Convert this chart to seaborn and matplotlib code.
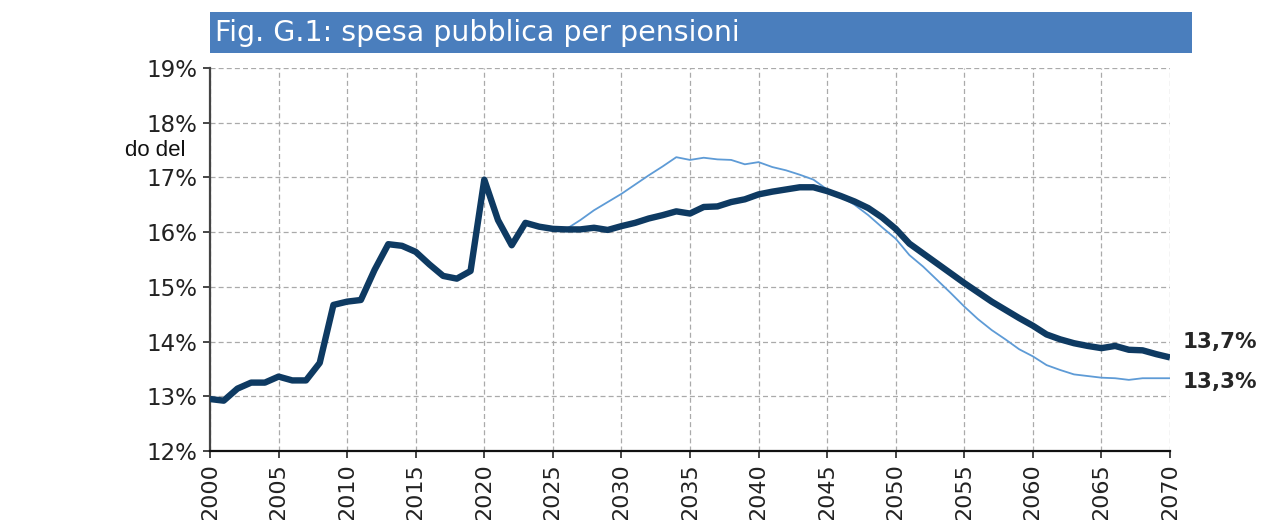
import numpy as np
import pandas as pd
import matplotlib.pyplot as plt
import seaborn as sns
from matplotlib.patches import Rectangle

# ==========================================
# DATA (% of GDP)
# ==========================================
years_main = list(range(2000, 2071))
spesa_main = [
    12.95, 12.92, 13.14, 13.25, 13.25, 13.36, 13.29, 13.29, 13.61, 14.67,
    14.73, 14.76, 15.31, 15.78, 15.75, 15.64, 15.41, 15.20, 15.15, 15.29,
    16.96, 16.22, 15.76, 16.17, 16.10, 16.06, 16.05, 16.05, 16.08, 16.04,
    16.11, 16.17, 16.25, 16.31, 16.38, 16.34, 16.46, 16.47, 16.55, 16.60,
    16.69, 16.74, 16.78, 16.82, 16.82, 16.75, 16.66, 16.56, 16.44, 16.27,
    16.06, 15.79, 15.61, 15.43, 15.25, 15.07, 14.90, 14.73, 14.58, 14.43,
    14.29, 14.13, 14.04, 13.97, 13.92, 13.88, 13.92, 13.85, 13.84, 13.77,
    13.71,
]

years_alt = list(range(2025, 2071))
spesa_alt = [
    16.06, 16.06, 16.22, 16.40, 16.55, 16.70, 16.87, 17.04, 17.20, 17.37,
    17.32, 17.36, 17.33, 17.32, 17.24, 17.28, 17.19, 17.13, 17.05, 16.96,
    16.78, 16.65, 16.50, 16.31, 16.09, 15.88, 15.58, 15.37, 15.13, 14.89,
    14.64, 14.41, 14.21, 14.04, 13.86, 13.73, 13.57, 13.48, 13.40, 13.37,
    13.34, 13.33, 13.30, 13.33, 13.33, 13.33,
]

end_labels = ["13,7%", "13,3%"]
title_text = "Fig. G.1: spesa pubblica per pensioni"
side_text = "do del"

x_ticks = list(range(2000, 2071, 5))
y_ticks = list(range(12, 20))

# ==========================================
# PLOT
# ==========================================
sns.set_style("white")
plt.rcParams["font.family"] = ["DejaVu Sans"]

DARK = "#0e3a62"
LIGHT = "#5e9bd6"
BAR = "#4a7ebd"

df_main = pd.DataFrame({"anno": years_main, "spesa": spesa_main})
df_alt = pd.DataFrame({"anno": years_alt, "spesa": spesa_alt})

fig = plt.figure(figsize=(12.62, 5.2), dpi=100)
ax = fig.add_axes([210 / 1262, 1 - 451 / 520, 960 / 1262, 383 / 520])

sns.lineplot(data=df_alt, x="anno", y="spesa", ax=ax, color=LIGHT, lw=1.3, zorder=3)
sns.lineplot(data=df_main, x="anno", y="spesa", ax=ax, color=DARK, lw=4.6, zorder=4,
             solid_capstyle="butt")

ax.set_xlim(2000, 2070)
ax.set_ylim(12, 19)
ax.set_xticks(x_ticks)
ax.set_yticks(y_ticks)
ax.set_xticklabels([str(x) for x in x_ticks], rotation=90, fontsize=16, color="#222222")
ax.set_yticklabels([f"{y}%" for y in y_ticks], fontsize=16.5, color="#222222")
ax.set_xlabel("")
ax.set_ylabel("")

ax.grid(True, color="#aaaaaa", linestyle=(0, (4, 2.5)), linewidth=0.9)
for s in ["top", "right"]:
    ax.spines[s].set_visible(False)
ax.spines["left"].set_color("#444444")
ax.spines["left"].set_linewidth(1.6)
ax.spines["bottom"].set_color("#111111")
ax.spines["bottom"].set_linewidth(1.6)
ax.tick_params(axis="both", which="both", direction="out", length=5, width=1.2,
               left=True, bottom=True, pad=4)

# end labels
ax.annotate(end_labels[0], xy=(years_main[-1], spesa_main[-1]),
            xytext=(9, 11), textcoords="offset points", fontsize=15.5, fontweight="bold",
            va="center", ha="left", annotation_clip=False)
ax.annotate(end_labels[1], xy=(years_alt[-1], spesa_alt[-1]),
            xytext=(9, -2.5), textcoords="offset points", fontsize=15.5, fontweight="bold",
            va="center", ha="left", annotation_clip=False)

# title bar
fig.patches.append(Rectangle((210 / 1262, 1 - 53 / 520), 982 / 1262, 41 / 520,
                             transform=fig.transFigure, facecolor=BAR, edgecolor="none"))
fig.text(215 / 1262, 1 - 33 / 520, title_text, color="white", fontsize=20.5,
         va="center", ha="left")

fig.text(125 / 1262, 1 - 150 / 520, side_text, fontsize=16, va="center", ha="left",
         family=["Liberation Sans", "DejaVu Sans"], color="#111111")

fig.savefig("out.png", dpi=100)
